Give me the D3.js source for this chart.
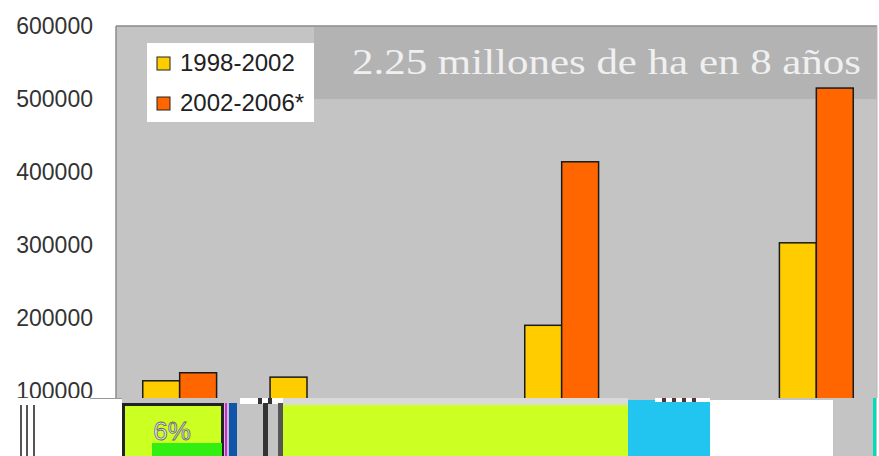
<!doctype html>
<html>
  <head>
    <meta charset="utf-8">
    <script src="https://cdn.jsdelivr.net/npm/d3@7/dist/d3.min.js"></script>
    <style>
      body { margin: 0; background: #fff; }
      svg { display: block; }
      .tick text { font-family: Arial, "Liberation Sans", sans-serif; }
    </style>
  </head>
  <body>
    <svg id="chart" width="879" height="456"></svg>
    <script>
      // values (hectares); categories below 100000 are hidden by the strip
      const categories = ["C1", "C2", "C3", "C4", "C5", "C6"];
      const seriesNames = ["1998-2002", "2002-2006*"];
      const values1998 = [114000, 119000, 0, 190000, 0, 303000];
      const values2002 = [125000, 0, 0, 414000, 0, 515000];
      const yTicks = [100000, 200000, 300000, 400000, 500000, 600000];
      const title = "2.25 millones de ha en 8 años";

      const colors = ["#ffcc00", "#ff6600"];
      const W = 879, H = 456;
      const plot = { left: 116, right: 877, top: 26, cut: 398 };

      const svg = d3.select("#chart");

      const x0 = d3.scaleBand()
        .domain(categories)
        .range([plot.left, 880])
        .paddingInner(0.42)
        .paddingOuter(0.21);
      const x1 = d3.scaleBand()
        .domain(seriesNames)
        .range([0, x0.bandwidth()]);
      const y = d3.scaleLinear()
        .domain([0, 600000])
        .range([464, plot.top]);

      // plot background
      svg.append("rect")
        .attr("x", plot.left).attr("y", plot.top)
        .attr("width", plot.right - plot.left).attr("height", H - plot.top)
        .style("fill", "#c4c4c4");
      // darker band behind the title
      svg.append("rect")
        .attr("x", 314).attr("y", plot.top + 1)
        .attr("width", plot.right - 314).attr("height", y(500000) - plot.top - 1)
        .style("fill", "#b3b3b3");
      svg.append("line")
        .attr("x1", plot.left).attr("x2", plot.right)
        .attr("y1", plot.top).attr("y2", plot.top)
        .style("stroke", "#8a8a8a").style("stroke-width", "1.5px");
      svg.append("line")
        .attr("x1", plot.right).attr("x2", plot.right)
        .attr("y1", plot.top).attr("y2", plot.cut)
        .style("stroke", "#b8b8b8").style("stroke-width", "1px");

      // y axis
      const yAxis = d3.axisLeft(y).tickValues(yTicks).tickFormat(d3.format("d"))
        .tickSize(0).tickPadding(23);
      const gy = svg.append("g")
        .attr("transform", "translate(" + plot.left + ",0)")
        .call(yAxis);
      gy.select(".domain").remove();
      gy.selectAll(".tick text")
        .style("font-size", "23px")
        .style("fill", "#333");
      svg.append("line")
        .attr("x1", plot.left).attr("x2", plot.left)
        .attr("y1", plot.top).attr("y2", plot.cut)
        .style("stroke", "#8c8c8c").style("stroke-width", "1.5px");

      // bars
      svg.append("clipPath").attr("id", "cut")
        .append("rect")
        .attr("x", 0).attr("y", 0).attr("width", W).attr("height", plot.cut);

      const rows = categories.map((c, i) => ({
        cat: c,
        vals: [values1998[i], values2002[i]]
      }));

      svg.append("g")
        .attr("clip-path", "url(#cut)")
        .selectAll("g")
        .data(rows)
        .enter()
        .append("g")
        .attr("transform", d => "translate(" + x0(d.cat) + ",0)")
        .selectAll("rect")
        .data(d => d.vals.map((v, j) => ({ name: seriesNames[j], v: v, j: j })).filter(e => e.v > 0))
        .enter()
        .append("rect")
        .attr("x", d => x1(d.name))
        .attr("y", d => y(d.v))
        .attr("width", x1.bandwidth())
        .attr("height", d => y(0) - y(d.v))
        .style("fill", d => colors[d.j])
        .style("stroke", "#1a1a1a")
        .style("stroke-width", "1.5px");

      // title
      svg.append("text")
        .attr("x", 352).attr("y", 74)
        .attr("textLength", 509)
        .attr("lengthAdjust", "spacingAndGlyphs")
        .style("font-family", "'Liberation Serif', 'DejaVu Serif', serif")
        .style("font-size", "36px")
        .style("fill", "#f0f0f0")
        .text(title);

      // legend
      const legend = svg.append("g");
      legend.append("rect")
        .attr("x", 147).attr("y", 43).attr("width", 167).attr("height", 79)
        .style("fill", "#fff");
      seriesNames.forEach((s, i) => {
        legend.append("rect")
          .attr("x", 157).attr("y", 57 + i * 40)
          .attr("width", 13).attr("height", 13)
          .style("fill", colors[i])
          .style("stroke", "#222").style("stroke-width", "1px");
        legend.append("text")
          .attr("x", 180).attr("y", 71 + i * 40)
          .style("font-family", "Arial, 'Liberation Sans', sans-serif")
          .style("font-size", "24px")
          .style("fill", "#222")
          .text(s);
      });

      // overlapping strip at the bottom of the picture
      const strip = svg.append("g");
      const box = (x, yy, w, h, fill) => strip.append("rect")
        .attr("x", x).attr("y", yy).attr("width", w).attr("height", h).style("fill", fill);
      box(0, plot.cut, 122, H - plot.cut, "#fff");
      box(90, plot.cut, 32, 1, "#999");
      [20, 26, 33].forEach(xx => box(xx, 405, 2, H - 405, "#555"));
      box(240, plot.cut, 95, 6, "#fff");
      [258, 268, 290, 300, 312].forEach(xx => box(xx, plot.cut, 4, 6, "#333"));
      box(283, plot.cut, 345, 7, "#dadada");
      box(283, 405, 345, H - 405, "#ccff22");
      box(628, 400, 82, H - 400, "#22c4f0");
      box(655, plot.cut, 55, 4, "#fff");
      [662, 672, 682, 692].forEach(xx => box(xx, plot.cut, 4, 4, "#553333"));
      box(710, 400, 123, H - 400, "#fff");
      box(873, plot.cut, 3, H - plot.cut, "#00ddbb");
      box(225, 403, 2, H - 403, "#dd22dd");
      box(229, 403, 8, H - 403, "#1155aa");
      box(263, 403, 5, H - 403, "#333");
      box(278, 403, 5, H - 403, "#555");
      strip.append("rect")
        .attr("x", 123.5).attr("y", 404.5).attr("width", 99).attr("height", H)
        .style("fill", "#ccff22")
        .style("stroke", "#222").style("stroke-width", "3px");
      box(152, 443, 70, H - 443, "#33ee11");
      strip.append("text")
        .attr("x", 172).attr("y", 440)
        .attr("text-anchor", "middle")
        .style("font-family", "Arial, 'Liberation Sans', sans-serif")
        .style("font-size", "26px")
        .style("fill", "#e8e8e8")
        .style("stroke", "#666").style("stroke-width", "0.8px")
        .text("6%");
    </script>
  </body>
</html>
